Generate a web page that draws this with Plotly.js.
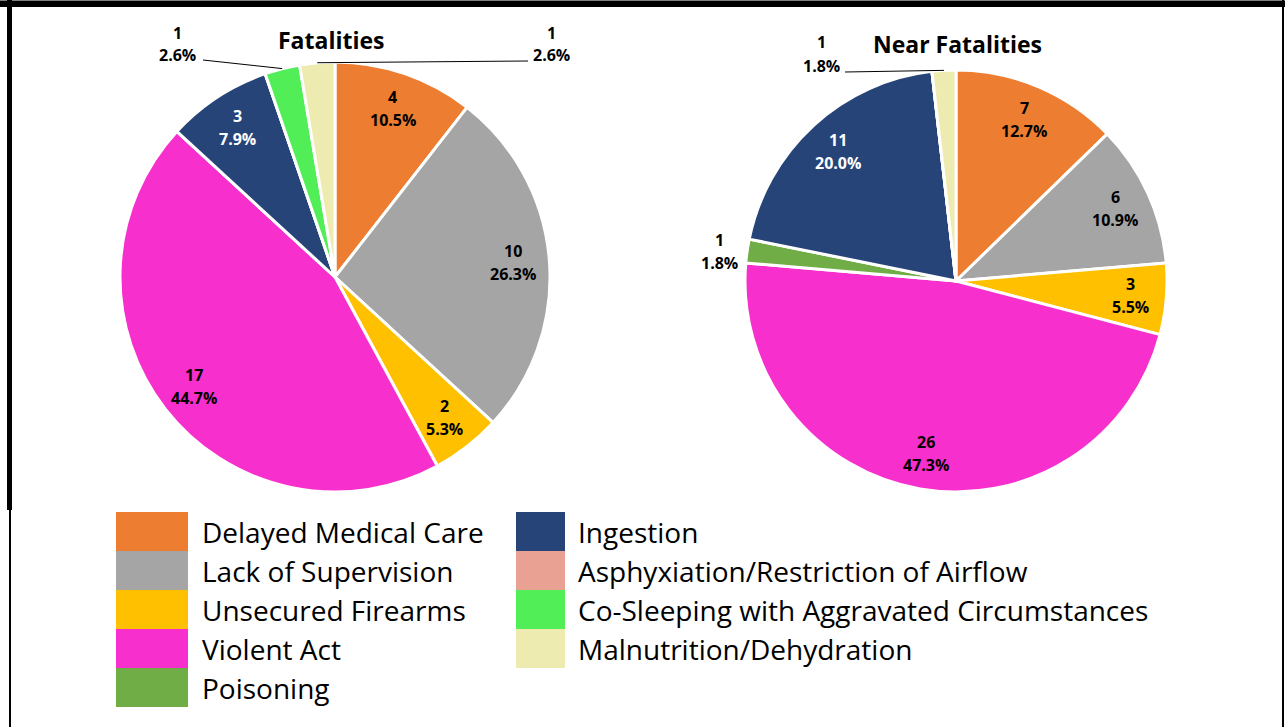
<!DOCTYPE html>
<html>
<head>
<meta charset="utf-8">
<script src="https://cdn.plot.ly/plotly-3.0.1.min.js"></script>
<style>html,body{margin:0;padding:0;background:#fff;}#chart{width:1285px;height:727px;}</style>
</head>
<body>
<div id="chart"></div>
<script>
// ---- data ----
const categories = [
  "Delayed Medical Care",
  "Lack of Supervision",
  "Unsecured Firearms",
  "Violent Act",
  "Poisoning",
  "Ingestion",
  "Asphyxiation/Restriction of Airflow",
  "Co-Sleeping with Aggravated Circumstances",
  "Malnutrition/Dehydration"
];
const colors = ["#ED7D31","#A5A5A5","#FFC000","#F72FCC","#70AD47","#264478","#E8A193","#52EE58","#EEEBB0"];
const labelColors = ["#000","#000","#000","#000","#000","#fff","#000","#000","#000"];
const fatalValues = [4, 10, 2, 17, 0, 3, 0, 1, 1];
const nearValues  = [7, 6, 3, 26, 1, 11, 0, 0, 1];
const titles = ["Fatalities", "Near Fatalities"];

// ---- layout geometry (pixels) ----
const W = 1285, H = 727;
const FONT = "Open Sans, Noto Sans, sans-serif";
const pies = [
  {values: fatalValues, cx: 335, cy: 277, r: 215, title: titles[0], tx: 331, ty: 40,
   outside: {7: {lx: 177, ly: 44, ex: 203, ey: 60}, 8: {lx: 551, ly: 44, ex: 528, ey: 61}}},
  {values: nearValues, cx: 956, cy: 281, r: 211, title: titles[1], tx: 957, ty: 44,
   outside: {8: {lx: 822, ly: 54, ex: 845, ey: 72}, 4: {lx: 719, ly: 251}}}
];
const px = x => x / W;
const py = y => 1 - y / H;

const traces = [];
const annotations = [];
const shapes = [];

function txt(x, y, text, size, color, bold, anchor) {
  annotations.push({
    xref: "paper", yref: "paper", x: px(x), y: py(y),
    xanchor: anchor || "center", yanchor: "middle", showarrow: false,
    text: bold ? "<b>" + text + "</b>" : text,
    font: {family: FONT, size: size, color: color}
  });
}

pies.forEach(p => {
  traces.push({
    type: "pie",
    labels: categories,
    values: p.values,
    sort: false,
    direction: "clockwise",
    rotation: 0,
    textinfo: "none",
    hoverinfo: "label+value+percent",
    showlegend: false,
    marker: {colors: colors, line: {color: "#ffffff", width: 3}},
    domain: {x: [px(p.cx - p.r), px(p.cx + p.r)], y: [py(p.cy + p.r), py(p.cy - p.r)]}
  });
  txt(p.tx, p.ty, p.title, 23, "#000", true);
  const total = p.values.reduce((a, b) => a + b, 0);
  let cum = 0;
  p.values.forEach((v, i) => {
    if (v <= 0) return;
    const th = (cum + v / 2) / total * 2 * Math.PI;
    cum += v;
    const pct = (v / total * 100).toFixed(1) + "%";
    const o = p.outside[i];
    let lx, ly, col;
    if (o) {
      lx = o.lx; ly = o.ly; col = "#000";
      if (o.ex !== undefined) {
        const sx = p.cx + p.r * Math.sin(th), sy = p.cy - p.r * Math.cos(th);
        shapes.push({type: "line", xref: "paper", yref: "paper",
          x0: px(sx), y0: py(sy), x1: px(o.ex), y1: py(o.ey),
          line: {color: "#000", width: 1}});
      }
    } else {
      lx = p.cx + 0.83 * p.r * Math.sin(th);
      ly = p.cy - 0.83 * p.r * Math.cos(th);
      col = labelColors[i];
    }
    txt(lx, ly - 11.5, String(v), 16, col, true);
    txt(lx, ly + 11.5, pct, 16, col, true);
  });
});

// ---- legend (two columns) ----
const legendCols = [
  {sx: 116, sw: 72, tx: 200, items: [0, 1, 2, 3, 4]},
  {sx: 516, sw: 49, tx: 576, items: [5, 6, 7, 8]}
];
const legTop = 512, rowH = 39;
legendCols.forEach(c => {
  c.items.forEach((ci, k) => {
    const y0 = legTop + k * rowH;
    shapes.push({type: "rect", xref: "paper", yref: "paper",
      x0: px(c.sx), x1: px(c.sx + c.sw), y0: py(y0), y1: py(y0 + rowH),
      fillcolor: colors[ci], line: {width: 0}});
    txt(c.tx, y0 + rowH / 2, categories[ci], 28, "#000", false, "left");
  });
});

// ---- frame ----
function rect(x0, y0, x1, y1, color) {
  shapes.push({type: "rect", xref: "paper", yref: "paper",
    x0: px(x0), x1: px(x1), y0: py(y0), y1: py(y1), fillcolor: color, line: {width: 0}, layer: "above"});
}
rect(0, 0, W, 1, "#808080");
rect(0, 1, W, 7, "#000");
rect(7, 0, 12, 510, "#000");
rect(9, 510, 11, H, "#000");
rect(1282, 0, 1284, H, "#000");

Plotly.newPlot("chart", traces, {
  width: W, height: H,
  margin: {l: 0, r: 0, t: 0, b: 0},
  paper_bgcolor: "#fff",
  showlegend: false,
  font: {family: FONT},
  annotations: annotations,
  shapes: shapes
}, {displayModeBar: false, staticPlot: true});
</script>
</body>
</html>
